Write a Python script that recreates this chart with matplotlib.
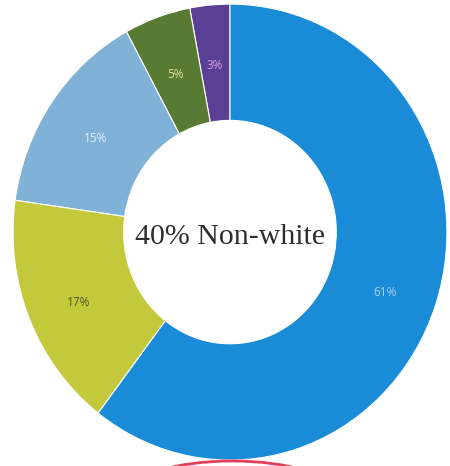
import matplotlib
matplotlib.use("Agg")
import matplotlib.pyplot as plt
import matplotlib.transforms as mtransforms
from matplotlib.patches import Ellipse

# Data (counter-clockwise from the top)
categories = ["Group A", "Group B", "Group C", "Group D", "Group E"]
values = [3, 5, 15, 17, 61]
pct_labels = ["3%", "5%", "15%", "17%", "61%"]
colors = ["#5a3f94", "#587a33", "#7fb2d6", "#c4c93c", "#1a8bd6"]
label_colors = ["#d9a6e6", "#e3e39a", "#e4eef6", "#4f5222", "#a9d3f2"]
center_text = "40% Non-white"

fig = plt.figure(figsize=(4.5, 4.66), dpi=100)
ax = fig.add_axes([0, 0, 1, 1])

wedges, texts = ax.pie(
    values,
    labels=pct_labels,
    colors=colors,
    startangle=90,
    counterclock=True,
    labeldistance=0.755,
    radius=1.0,
    wedgeprops=dict(width=0.51, edgecolor="white", linewidth=0.8),
    textprops=dict(fontsize=8.5, family=["Open Sans", "DejaVu Sans"]),
)
shift = mtransforms.ScaledTranslation(0, -5 / 100, fig.dpi_scale_trans)
for t, c in zip(texts, label_colors):
    t.set_color(c)
    t.set_ha("center")
    t.set_va("center")
    t.set_transform(t.get_transform() + shift)

ax.text(0, -0.02, center_text, ha="center", va="center", fontsize=21.5,
        family=["Liberation Serif", "DejaVu Serif"], color="#2e2e2e")

# partial red outline at the bottom edge
ax.add_patch(Ellipse((0.01, -1.154), 0.97, 0.30, fill=False,
                     edgecolor="#e0405a", linewidth=2.0, zorder=5))

ax.set_aspect("auto")
ax.set_xlim(-1.06, 1.014)
ax.set_ylim(-1.026, 1.018)
ax.axis("off")

fig.savefig("out.png", dpi=100)
